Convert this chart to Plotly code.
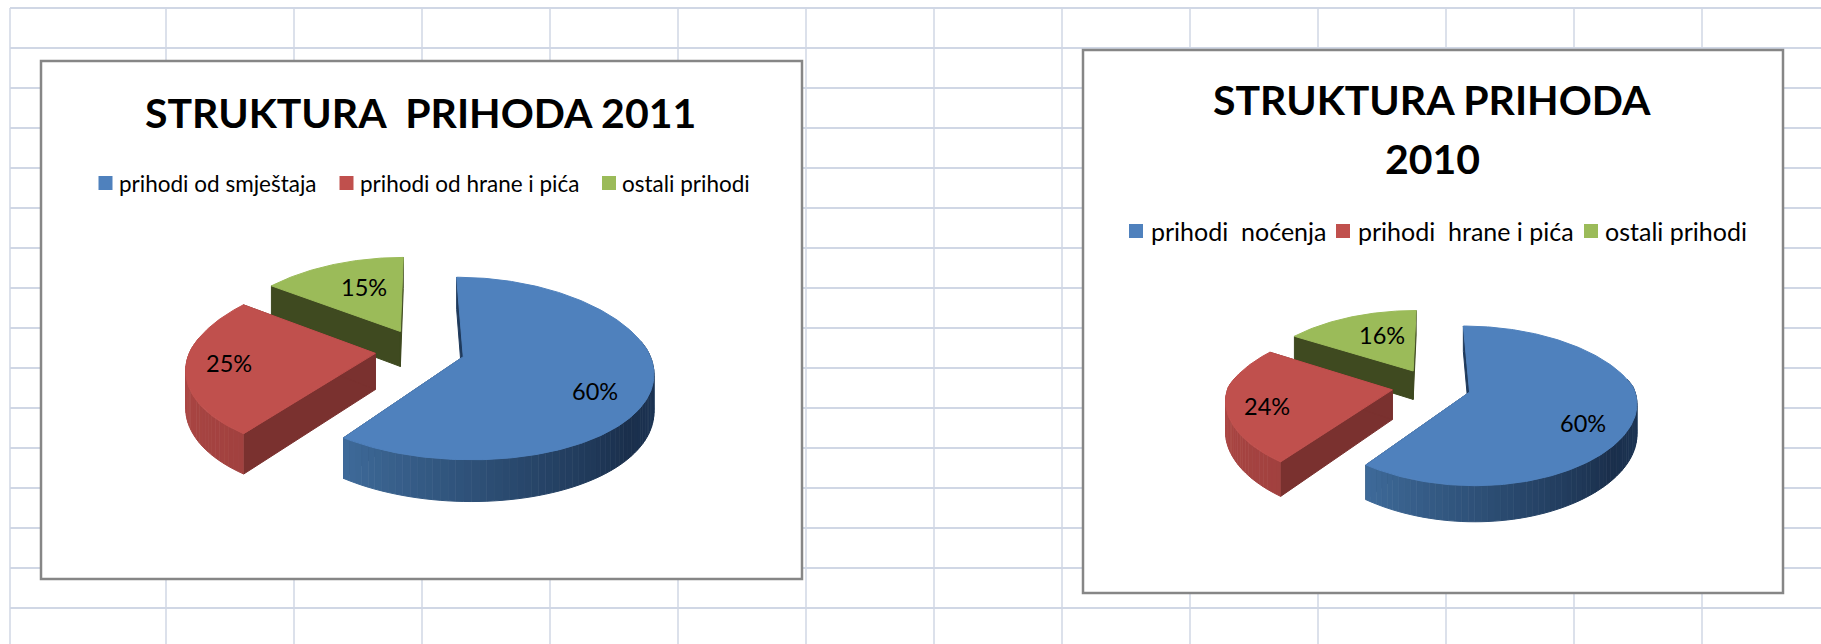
import numpy as np
import plotly.graph_objects as go

# ---- data ----
values_2011 = [60, 25, 15]
names_2011 = ["prihodi od smještaja", "prihodi od hrane i pića", "ostali prihodi"]
title_2011 = ["STRUKTURA  PRIHODA 2011"]
values_2010 = [60, 24, 16]
names_2010 = ["prihodi  noćenja", "prihodi  hrane i pića", "ostali prihodi"]
title_2010 = ["STRUKTURA PRIHODA", "2010"]

# ---- styles ----
TOP = ["#4f81bd", "#c0504d", "#9bbb59"]
RADIAL = ["#1f3a5c", "#7a312f", "#3f4a20"]
ARC_STOPS = [
    [(80, "#1f3a5c"), (130, "#1a2f4c"), (170, "#2a4a6f"), (216, "#3f6b9a")],
    [(200, "#9e3f3d"), (280, "#b04a47")],
    [(0, "#6b8040"), (360, "#6b8040")],
]
GRID = "#d0d7e5"
FONT = "Lato"
H_LINES = list(range(8, 620, 40))
V_LINES = [10] + list(range(166, 1821, 128))

PANELS = [
    dict(values=values_2011, names=names_2011, title=title_2011,
         box=(41, 61, 802, 579), title_x=420, title_y=[112], title_size=41,
         X0=420, Y0=350, A=185, B=88, d=0.1285, dx=0.18, dxf=0.155, e=0.243, T=36,
         legend_y=183, sq_x=[105.5, 346.5, 609], text_x=[117, 358, 620], legend_size=22.5,
         label_xy=[(595, 391), (229, 363), (363.5, 287)]),
    dict(values=values_2010, names=names_2010, title=title_2010,
         box=(1083, 50, 1783, 593), title_x=1432, title_y=[99, 158], title_size=41,
         X0=1431.5, Y0=386.4, A=164, B=75.5, d=0.17, dx=0.2, dxf=0.12, e=0.242, T=29.5,
         legend_y=231, sq_x=[1136, 1343, 1591], text_x=[1149, 1356, 1603], legend_size=25,
         label_xy=[(1583, 423), (1267, 406), (1382, 335)]),
]


def lerp_color(stops, a):
    if a <= stops[0][0]:
        return stops[0][1]
    for (a0, c0), (a1, c1) in zip(stops, stops[1:]):
        if a <= a1:
            t = (a - a0) / (a1 - a0)
            r0 = [int(c0[i:i + 2], 16) for i in (1, 3, 5)]
            r1 = [int(c1[i:i + 2], 16) for i in (1, 3, 5)]
            return "rgb(%d,%d,%d)" % tuple(x + (y - x) * t for x, y in zip(r0, r1))
    return stops[-1][1]


fig = go.Figure()


def poly(xs, ys, color):
    fig.add_trace(go.Scatter(
        x=list(xs), y=list(ys), mode="lines", fill="toself", fillcolor=color,
        line=dict(color=color, width=1), hoverinfo="skip", showlegend=False))


def draw_pie(p):
    def project(u, v, drop=0.0):
        u, v = np.asarray(u, float), np.asarray(v, float)
        py = 1 / (1 + p["d"] * v)
        px = 1 / (1 + np.where(v < 0, p["dxf"], p["dx"]) * v)
        return (p["X0"] + p["A"] * u * px,
                p["Y0"] - p["B"] * v * py + drop * py)

    total = sum(p["values"])
    angles = np.cumsum([0] + p["values"]) / total * 360.0
    # back slices first, so that the front ones overlap them
    for i in [2, 1, 0]:
        a0, a1 = angles[i], angles[i + 1]
        mid = np.radians((a0 + a1) / 2)
        ou, ov = p["e"] * np.sin(mid), p["e"] * np.cos(mid)
        th = np.radians(np.linspace(a0, a1, int(a1 - a0) + 2))
        us, vs = ou + np.sin(th), ov + np.cos(th)

        # radial walls
        for t in (th[0], th[-1]):
            eu, ev = ou + np.sin(t), ov + np.cos(t)
            a = project(ou, ov)
            b = project(eu, ev)
            c = project(eu, ev, p["T"])
            d = project(ou, ov, p["T"])
            poly([float(a[0]), float(b[0]), float(c[0]), float(d[0]), float(a[0])],
                 [float(a[1]), float(b[1]), float(c[1]), float(d[1]), float(a[1])], RADIAL[i])

        # outer wall, in strips, shaded by angle
        edges = np.arange(a0, a1 + 0.001, 2.0)
        if edges[-1] < a1:
            edges = np.append(edges, a1)
        for s0, s1 in zip(edges, edges[1:]):
            am = (s0 + s1) / 2
            if not 80 <= am <= 280:
                continue
            t = np.radians(np.linspace(s0, s1, 3))
            top = project(ou + np.sin(t), ov + np.cos(t))
            bot = project(ou + np.sin(t), ov + np.cos(t), p["T"])
            poly(np.r_[top[0], bot[0][::-1]].tolist(), np.r_[top[1], bot[1][::-1]].tolist(),
                 lerp_color(ARC_STOPS[i], am))

        # top face
        x, y = project(np.r_[ou, us, ou], np.r_[ov, vs, ov])
        poly(x.tolist(), y.tolist(), TOP[i])

    for v, xy in zip(p["values"], p["label_xy"]):
        fig.add_annotation(x=xy[0], y=xy[1], text=f"{v}%", showarrow=False,
                           font=dict(family=FONT, size=23.5, color="#000000"))

    for ln, yy in zip(p["title"], p["title_y"]):
        fig.add_annotation(x=p["title_x"], y=yy, text=f"<b>{ln}</b>", showarrow=False,
                           font=dict(family=FONT, size=p["title_size"], color="#000000"))

    for i, name in enumerate(p["names"]):
        fig.add_trace(go.Scatter(
            x=[p["sq_x"][i]], y=[p["legend_y"]], mode="markers",
            marker=dict(symbol="square", size=14, color=TOP[i]),
            hoverinfo="skip", showlegend=False))
        fig.add_annotation(x=p["text_x"][i], y=p["legend_y"], text=name, showarrow=False,
                           xanchor="left", font=dict(family=FONT, size=p["legend_size"], color="#000000"))


shapes = []
for y in H_LINES:
    shapes.append(dict(type="line", x0=10, x1=1821, y0=y, y1=y, layer="below",
                       line=dict(color=GRID, width=2)))
for x in V_LINES:
    shapes.append(dict(type="line", x0=x, x1=x, y0=8, y1=644, layer="below",
                       line=dict(color=GRID, width=1.5)))
for p in PANELS:
    x0, y0, x1, y1 = p["box"]
    shapes.append(dict(type="rect", x0=x0, x1=x1, y0=y0, y1=y1, layer="below",
                       fillcolor="#ffffff", line=dict(color="#868686", width=2.5)))

for p in PANELS:
    draw_pie(p)

fig.update_layout(
    width=1821, height=644, margin=dict(l=0, r=0, t=0, b=0, pad=0),
    paper_bgcolor="#ffffff", plot_bgcolor="#ffffff", shapes=shapes, showlegend=False,
    xaxis=dict(range=[0, 1821], visible=False, fixedrange=True),
    yaxis=dict(range=[644, 0], visible=False, fixedrange=True),
)
fig.write_html("out.html", post_script="document.body.style.margin='0';document.body.style.overflow='hidden';",
               config={"displayModeBar": False})
